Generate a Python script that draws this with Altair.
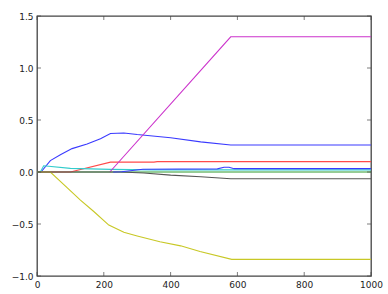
import altair as alt
import pandas as pd

# ---- data ----
x_ticks = [0, 200, 400, 600, 800, 1000]
y_ticks = [-1.0, -0.5, 0.0, 0.5, 1.0, 1.5]

blue_x = [0, 12, 40, 70, 105, 150, 190, 220, 260, 300, 400, 490, 580, 1000]
blue_y = [0, 0, 0.11, 0.165, 0.225, 0.27, 0.32, 0.37, 0.375, 0.36, 0.33, 0.29, 0.26, 0.26]

green_x = [0, 300, 1000]
green_y = [0, 0.0, 0.0]

red_x = [0, 100, 220, 350, 360, 1000]
red_y = [0, 0, 0.095, 0.095, 0.1, 0.1]

cyan_x = [0, 10, 20, 100, 220, 350, 1000]
cyan_y = [0, 0, 0.06, 0.035, 0.025, 0.02, 0.02]

magenta_x = [218, 580, 1000]
magenta_y = [0, 1.3, 1.3]

yellow_x = [0, 40, 90, 130, 170, 215, 260, 300, 368, 430, 488, 583, 1000]
yellow_y = [0, 0, -0.15, -0.27, -0.38, -0.51, -0.58, -0.615, -0.67, -0.71, -0.765, -0.84, -0.84]

black_x = [0, 250, 320, 400, 490, 580, 1000]
black_y = [0, 0, -0.01, -0.03, -0.045, -0.065, -0.065]

blue2_x = [228, 254, 317, 540, 560, 575, 590, 1000]
blue2_y = [0, 0.003, 0.026, 0.03, 0.045, 0.045, 0.032, 0.032]

series = [
    ("b", blue_x, blue_y, "#3a3aff"),
    ("g", green_x, green_y, "#2e9a2e"),
    ("r", red_x, red_y, "#ff4a4a"),
    ("c", cyan_x, cyan_y, "#33cccc"),
    ("m", magenta_x, magenta_y, "#cc33cc"),
    ("y", yellow_x, yellow_y, "#c8c825"),
    ("k", black_x, black_y, "#555555"),
    ("b2", blue2_x, blue2_y, "#3a3aff"),
]

xscale = alt.Scale(domain=[0, 1000], nice=False, zero=False)
yscale = alt.Scale(domain=[-1.0, 1.5], nice=False, zero=False)

xaxis = alt.Axis(values=x_ticks, format="d", grid=False, domain=False,
                 ticks=False, labelPadding=4, labelFontSize=9,
                 labelFont="DejaVu Sans", labelColor="#222", title=None,
                 labelFlush=False, labelOverlap=False)
yaxis = alt.Axis(values=y_ticks, format=".1f", grid=False, domain=False,
                 ticks=False, labelPadding=4, labelFontSize=9,
                 labelFont="DejaVu Sans", labelColor="#222", title=None,
                 labelFlush=False, labelOverlap=False,
                 labelExpr="replace(datum.label, '-', '\u2212')")

layers = []
for name, xs, ys, col in series:
    df = pd.DataFrame({"x": xs, "y": ys})
    layers.append(
        alt.Chart(df).mark_line(color=col, strokeWidth=1.1, clip=True).encode(
            x=alt.X("x:Q", scale=xscale, axis=xaxis),
            y=alt.Y("y:Q", scale=yscale, axis=yaxis),
            order="x:Q",
        )
    )

xt = pd.DataFrame({"t": x_ticks})
yt = pd.DataFrame({"t": y_ticks})
tick_col = "#444"
bottom = alt.Chart(xt).mark_tick(orient="vertical", size=4, thickness=1, color=tick_col, yOffset=-2).encode(
    x=alt.X("t:Q", scale=xscale, axis=xaxis), y=alt.datum(-1.0))
top = alt.Chart(xt).mark_tick(orient="vertical", size=4, thickness=1, color=tick_col, yOffset=2).encode(
    x=alt.X("t:Q", scale=xscale, axis=xaxis), y=alt.datum(1.5))
left = alt.Chart(yt).mark_tick(orient="horizontal", size=4, thickness=1, color=tick_col, xOffset=2).encode(
    y=alt.Y("t:Q", scale=yscale, axis=yaxis), x=alt.datum(0))
right = alt.Chart(yt).mark_tick(orient="horizontal", size=4, thickness=1, color=tick_col, xOffset=-2).encode(
    y=alt.Y("t:Q", scale=yscale, axis=yaxis), x=alt.datum(1000))

chart = alt.layer(*layers, bottom, top, left, right).properties(
    width=334, height=260,
    autosize=alt.AutoSizeParams(type="none"),
    padding={"left": 37, "top": 16, "right": 17, "bottom": 18},
    background="white",
).configure_view(stroke="#444", strokeWidth=1.3)

chart.save("out.html", embed_options={"renderer": "svg", "actions": False})
